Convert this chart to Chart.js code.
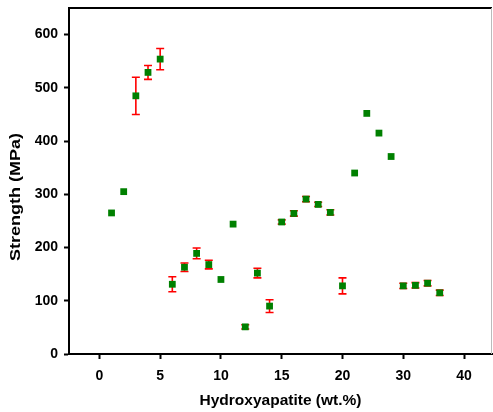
<!DOCTYPE html>
<html>
<head>
<meta charset="utf-8">
<script src="https://cdn.jsdelivr.net/npm/chart.js@4.4.1/dist/chart.umd.min.js"></script>
<style>
  html, body { margin: 0; padding: 0; background: #fff; }
  #wrap { width: 493px; height: 412px; }
</style>
</head>
<body>
<div id="wrap"><canvas id="chart" width="493" height="412"></canvas></div>
<script>
// Hydroxyapatite content (wt.%)
const hapContent = [1, 2, 3, 4, 5, 6, 7, 8, 9, 10, 11, 12, 13, 14, 15, 16, 17, 18, 19, 20, 22, 24, 26, 28, 30, 32, 34, 36];
// Strength (MPa)
const strength = [265, 305, 485, 529, 554, 131, 163, 189, 168, 140, 244, 51, 152, 90, 248, 264, 291, 281, 266, 128, 340, 452, 415, 371, 128, 129, 133, 115];
// error (+/-), null = no bar
const strengthErr = [null, null, 35, 13, 20, 14, 8, 10, 8, null, null, 4, 9, 12, 4, 5, 5, 4, 5, 15, null, null, null, null, 5, 5, 5, 5];
// tick labels on the broken x axis
const xTickValues = [0, 5, 10, 15, 20, 30, 40];
const yTickValues = [0, 100, 200, 300, 400, 500, 600];

// axis is linear to 20, then half scale from 20 to 40
function toAxis(v) { return v <= 20 ? v : 20 + (v - 20) / 2; }

const points = hapContent.map((x, i) => ({ x: toAxis(x), y: strength[i], err: strengthErr[i] }));

const errorBars = {
    id: 'errorBars',
    beforeDatasetsDraw(chart) {
        const { ctx, scales: { x, y } } = chart;
        ctx.save();
        ctx.strokeStyle = '#ff0000';
        ctx.lineWidth = 1.6;
        points.forEach(p => {
            if (!p.err) return;
            const px = x.getPixelForValue(p.x);
            const top = y.getPixelForValue(p.y + p.err);
            const bot = y.getPixelForValue(p.y - p.err);
            ctx.beginPath();
            ctx.moveTo(px, top); ctx.lineTo(px, bot);
            ctx.moveTo(px - 4, top); ctx.lineTo(px + 4, top);
            ctx.moveTo(px - 4, bot); ctx.lineTo(px + 4, bot);
            ctx.stroke();
        });
        ctx.restore();
    }
};

const frame = {
    id: 'frame',
    afterDraw(chart) {
        const { ctx, chartArea: a } = chart;
        ctx.save();
        ctx.strokeStyle = '#000';
        ctx.lineWidth = 2;
        ctx.beginPath();
        ctx.moveTo(a.left, a.top); ctx.lineTo(a.right, a.top);
        ctx.stroke();
        ctx.lineWidth = 1;
        ctx.strokeStyle = '#bbb';
        ctx.beginPath();
        ctx.moveTo(a.right - 0.5, a.top); ctx.lineTo(a.right - 0.5, a.bottom);
        ctx.stroke();
        // y axis title, a bit stretched along its length like the original
        ctx.fillStyle = '#000';
        ctx.font = 'bold 15px "Liberation Sans", Arial, sans-serif';
        ctx.textAlign = 'center';
        ctx.textBaseline = 'middle';
        ctx.translate(16, (a.top + a.bottom) / 2 + 16);
        ctx.rotate(-Math.PI / 2);
        ctx.scale(1.2, 1);
        ctx.fillText('Strength (MPa)', 0, 0);
        ctx.restore();
    }
};

const tickFont = { family: '"Liberation Sans", Arial, sans-serif', size: 14, weight: 'bold' };

new Chart(document.getElementById('chart'), {
    type: 'scatter',
    data: {
        datasets: [{
            data: points,
            pointStyle: 'rect',
            pointRadius: 4.8,
            pointHoverRadius: 4.8,
            backgroundColor: '#008000',
            borderColor: '#008000',
            borderWidth: 0
        }]
    },
    options: {
        responsive: false,
        animation: false,
        layout: { autoPadding: false, padding: { top: 8, right: 1, left: 0, bottom: 0 } },
        plugins: { legend: { display: false }, tooltip: { enabled: false } },
        scales: {
            x: {
                type: 'linear',
                min: -2.5,
                max: 32.3,
                afterBuildTicks: s => { s.ticks = xTickValues.map(v => ({ value: toAxis(v) })); },
                afterFit: s => { s.height = 58; s.paddingLeft = 0; s.paddingRight = 0; },
                ticks: {
                    color: '#000',
                    font: tickFont,
                    padding: 9,
                    callback: (v, i) => xTickValues[i]
                },
                grid: { display: true, drawOnChartArea: false, drawTicks: true, tickLength: 5, tickWidth: 2, color: '#000' },
                border: { display: true, color: '#000', width: 2 },
                title: {
                    display: true, text: 'Hydroxyapatite (wt.%)', color: '#000',
                    font: { family: '"Liberation Sans", Arial, sans-serif', size: 15.5, weight: 'bold' },
                    padding: { top: 3, bottom: 2 }
                }
            },
            y: {
                min: 0,
                max: 650,
                afterBuildTicks: s => { s.ticks = yTickValues.map(v => ({ value: v })); },
                afterFit: s => { s.width = 69; s.paddingTop = 0; s.paddingBottom = 0; },
                ticks: { color: '#000', font: tickFont, padding: 6 },
                grid: { display: true, drawOnChartArea: false, drawTicks: true, tickLength: 5, tickWidth: 2, color: '#000' },
                border: { display: true, color: '#000', width: 2 }
            }
        }
    },
    plugins: [errorBars, frame]
});
</script>
</body>
</html>
